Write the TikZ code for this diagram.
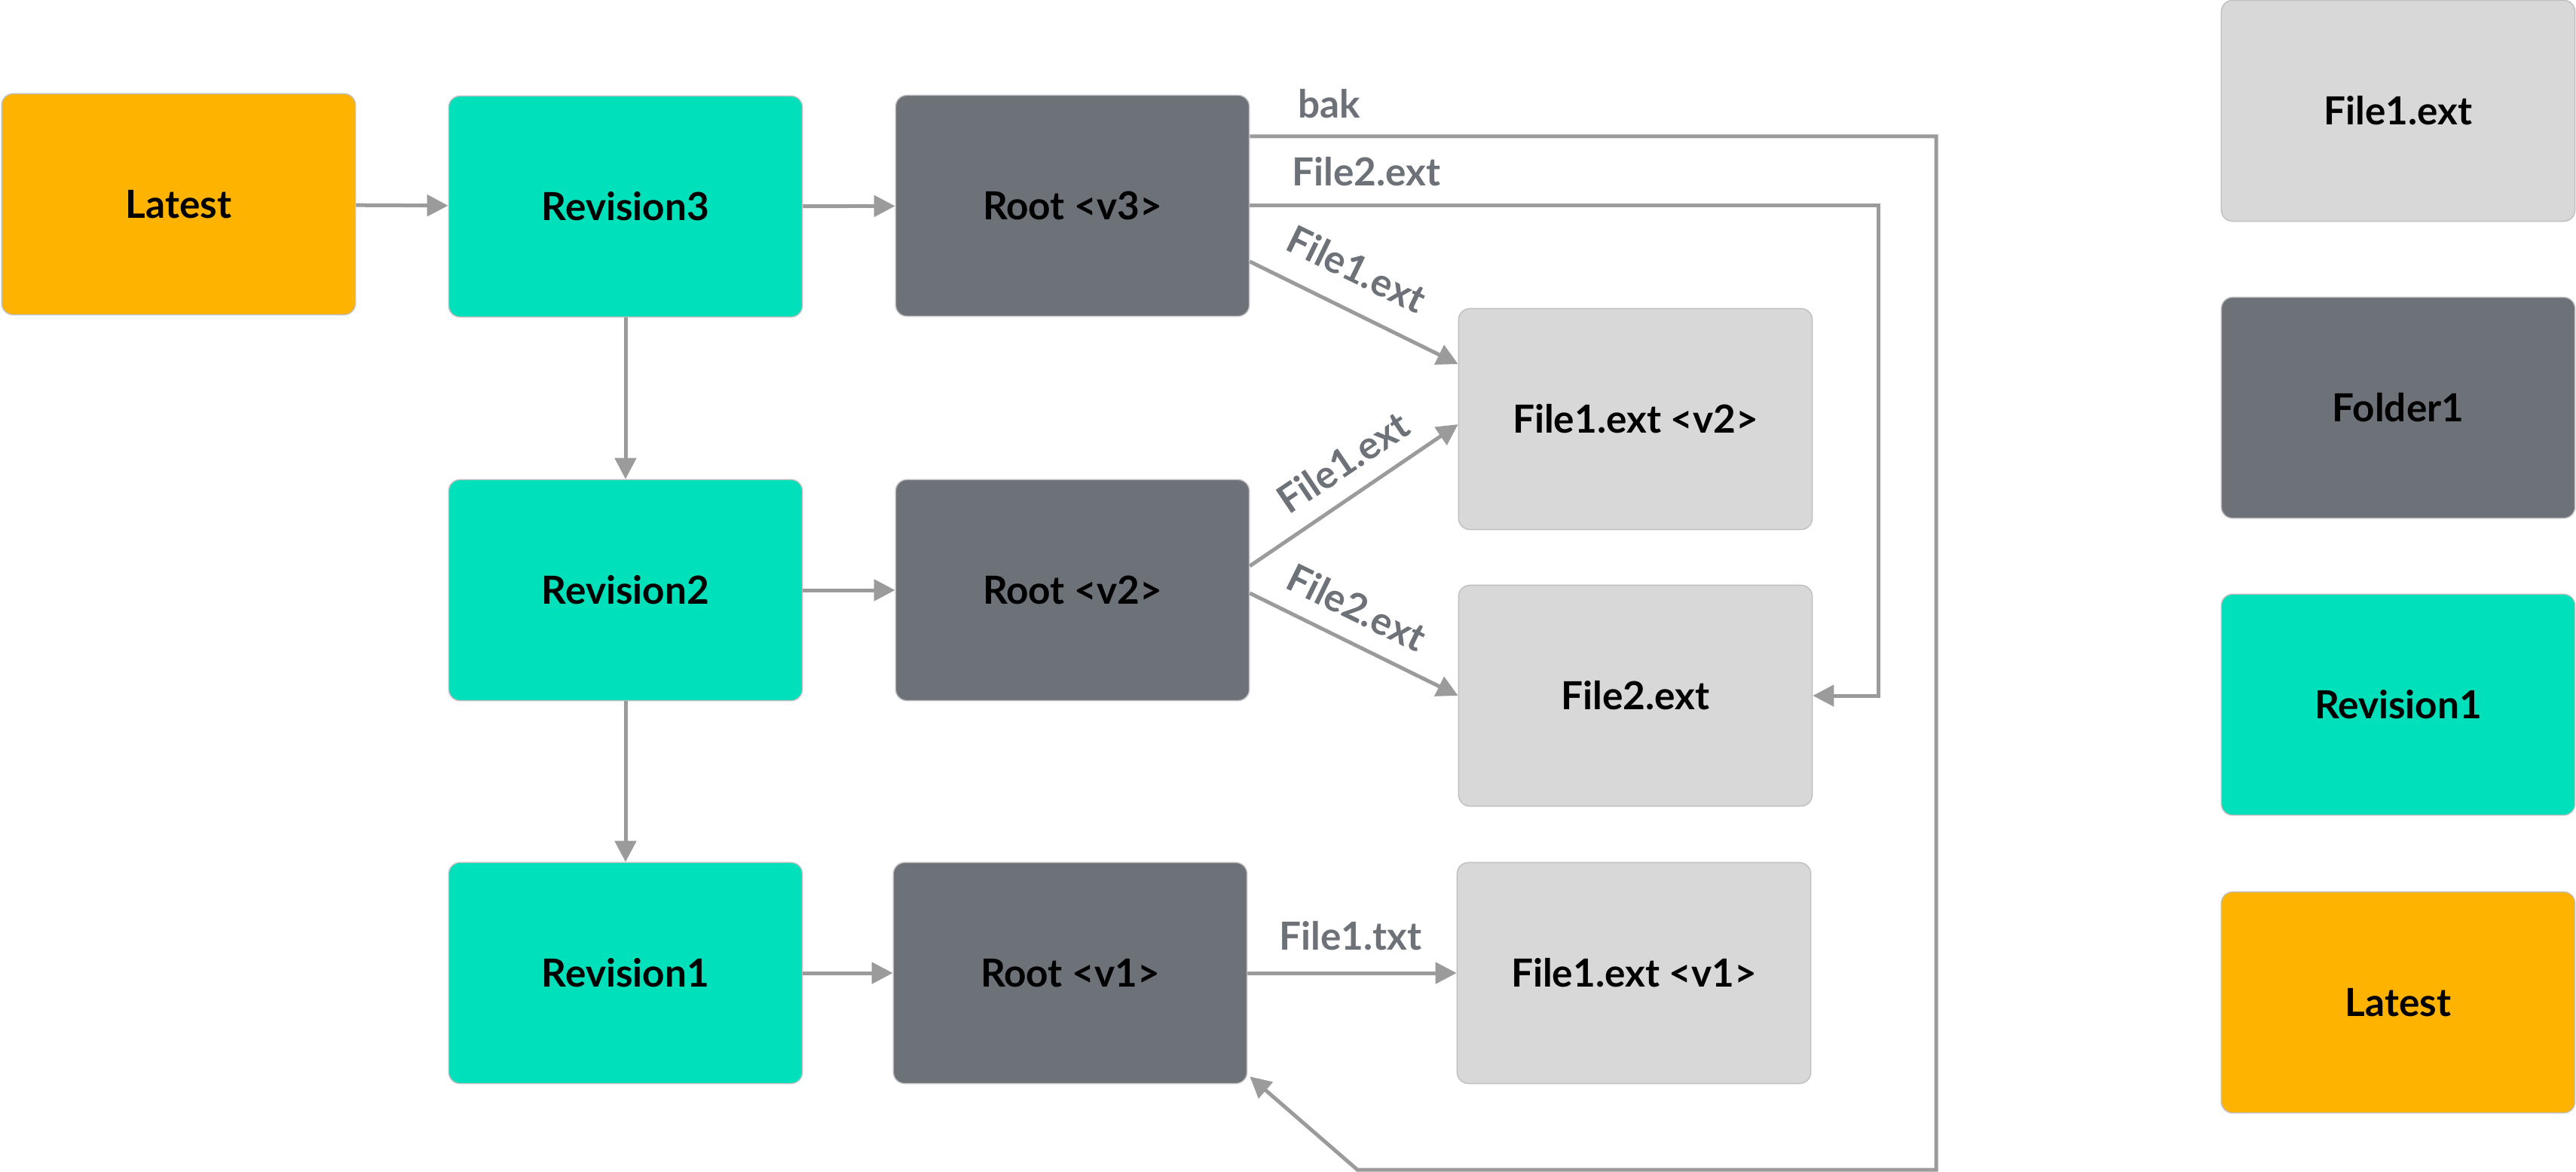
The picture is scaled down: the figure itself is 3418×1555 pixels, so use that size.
\documentclass[tikz,border=0pt]{standalone}
\usepackage{fontspec}
\setmainfont{Lato}
\usetikzlibrary{arrows.meta,calc}
\definecolor{latestc}{HTML}{FDB300}
\definecolor{revc}{HTML}{00E1BB}
\definecolor{folderc}{HTML}{6D7178}
\definecolor{filec}{HTML}{D8D8D8}
\definecolor{connc}{HTML}{9B9B9B}
\definecolor{labc}{HTML}{6D7178}
\definecolor{edgec}{HTML}{BFBFBF}
\begin{document}
\begin{tikzpicture}[x=0.01cm,y=-0.01cm,
  box/.style={rectangle, rounded corners=0.15cm, draw=edgec, line width=0.4pt,
    minimum width=4.69cm, minimum height=2.93cm, inner sep=0pt,
    font=\fontsize{14.6}{17}\selectfont\bfseries, text=black},
  latestbox/.style={box, fill=latestc},
  revbox/.style={box, fill=revc},
  folderbox/.style={box, fill=folderc},
  filebox/.style={box, fill=filec},
  conn/.style={draw=connc, line width=0.05cm, -{Triangle[length=0.28cm,width=0.28cm]}},
  lab/.style={text=labc, font=\fontsize{14.6}{17}\selectfont\bfseries, inner sep=0pt}
]
\useasboundingbox (0,0) rectangle (3418,1555);

% main nodes
\node[latestbox] (latest) at (237,271) {Latest};
\node[revbox] (rev3) at (830,274) {Revision3};
\node[folderbox] (root3) at (1423,273) {Root <v3>};
\node[filebox] (f1v2) at (2170,556) {File1.ext <v2>};
\node[revbox] (rev2) at (830,783) {Revision2};
\node[folderbox] (root2) at (1423,783) {Root <v2>};
\node[filebox] (f2) at (2170,923) {File2.ext};
\node[revbox] (rev1) at (830,1291) {Revision1};
\node[folderbox] (root1) at (1420,1291) {Root <v1>};
\node[filebox] (f1v1) at (2168,1291) {File1.ext <v1>};

% legend
\node[filebox] (lgfile) at (3182,147) {File1.ext};
\node[folderbox] (lgfolder) at (3182,541) {Folder1};
\node[revbox] (lgrev) at (3182,935) {Revision1};
\node[latestbox] (lglatest) at (3182,1330) {Latest};

% route coordinates
\coordinate (bakA) at (2569,181);
\coordinate (bakB) at (2569,1552);
\coordinate (bakC) at (1801,1552);
\coordinate (f2A) at (2492,273);

% connectors
\draw[conn] (latest) -- (rev3);
\draw[conn] (rev3) -- (root3);
\draw[conn] (rev3) -- (rev2);
\draw[conn] (rev2) -- (root2);
\draw[conn] (rev2) -- (rev1);
\draw[conn] (rev1) -- (root1);
\draw[conn] ($(root3.east)+(0,74)$) -- ($(f1v2.west)+(0,-73)$);
\draw[conn] ($(root2.east)+(0,-32)$) -- ($(f1v2.west)+(0,7)$);
\draw[conn] ($(root2.east)+(0,4)$) -- (f2.west);
\draw[conn] (root1) -- (f1v1);
\draw[conn] (root3.east |- f2A) -- (f2A) |- (f2.east);
\draw[conn] (root3.east |- bakA) -- (bakA) -- (bakB) -- (bakC) -- ($(root1.south east)+(3,-10)$);

% labels
\node[lab] (lbak) at (1764,138) {bak};
\node[lab] (lf2top) at (1813,228) {File2.ext};
\node[lab, rotate=-26] (lf1a) at (1800,357) {File1.ext};
\node[lab, rotate=34] (lf1b) at (1782,613) {File1.ext};
\node[lab, rotate=-26] (lf2b) at (1800,806) {File2.ext};
\node[lab] (lf1txt) at (1792,1242) {File1.txt};
\end{tikzpicture}
\end{document}
